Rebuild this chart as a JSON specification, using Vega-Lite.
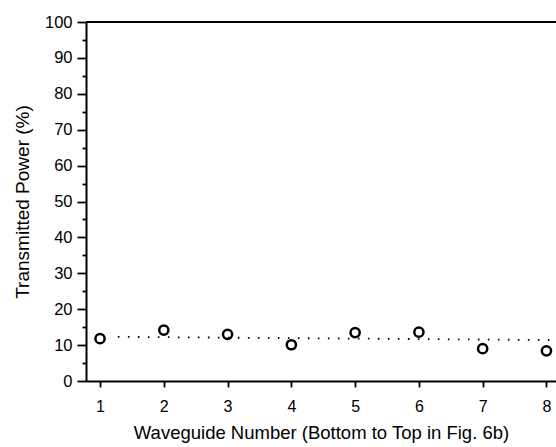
{
  "$schema": "https://vega.github.io/schema/vega-lite/v6.json",
  "autosize": {"type": "none"},
  "padding": {"left": 86, "top": 22, "right": 0, "bottom": 66},
  "width": 470,
  "height": 359,
  "background": "white",
  "config": {
    "view": {"stroke": null},
    "font": "Liberation Sans",
    "axis": {
      "domainColor": "black",
      "tickColor": "black",
      "labelColor": "black",
      "titleColor": "black",
      "grid": false,
      "labelOverlap": false,
      "labelFont": "Liberation Sans",
      "titleFont": "Liberation Sans",
      "titleFontWeight": "normal"
    }
  },
  "datasets": {
    "points": [
      {"waveguide": 1, "power": 11.8},
      {"waveguide": 2, "power": 14.2},
      {"waveguide": 3, "power": 13.0},
      {"waveguide": 4, "power": 10.1},
      {"waveguide": 5, "power": 13.5},
      {"waveguide": 6, "power": 13.6},
      {"waveguide": 7, "power": 9.0},
      {"waveguide": 8, "power": 8.4}
    ],
    "trend": [
      {"waveguide": 1.28, "power": 12.3},
      {"waveguide": 8.15, "power": 11.4}
    ],
    "frame": [
      {"power": 100}
    ]
  },
  "resolve": {"axis": {"y": "independent"}},
  "layer": [
    {
      "data": {"name": "points"},
      "mark": {"type": "point", "shape": "circle", "size": 85, "filled": false, "fill": "white", "fillOpacity": 1, "stroke": "black", "strokeWidth": 2.5, "opacity": 1},
      "encoding": {
        "x": {
          "field": "waveguide",
          "type": "quantitative",
          "scale": {"domain": [0.78, 8.15], "nice": false, "zero": false},
          "axis": {
            "values": [1, 2, 3, 4, 5, 6, 7, 8],
            "format": "d",
            "labelOverlap": false,
            "title": "Waveguide Number (Bottom to Top in Fig. 6b)",
            "domainWidth": 2,
            "tickWidth": 1.8,
            "tickSize": 6,
            "labelFontSize": 16,
            "labelPadding": 11,
            "titleFontSize": 18.5,
            "titlePadding": 9
          }
        },
        "y": {
          "field": "power",
          "type": "quantitative",
          "scale": {"domain": [0, 100], "nice": false},
          "axis": {
            "orient": "left",
            "values": [0, 10, 20, 30, 40, 50, 60, 70, 80, 90, 100],
            "labelOverlap": false,
            "tickSize": 9,
            "title": "Transmitted Power (%)",
            "domainWidth": 2,
            "tickWidth": 1.8,
            "labelFontSize": 16.5,
            "labelPadding": 5,
            "titleFontSize": 19,
            "titlePadding": 12
          }
        }
      }
    },
    {
      "data": {"name": "frame"},
      "mark": {"type": "rule", "color": "black", "strokeWidth": 2},
      "encoding": {"y": {"field": "power", "type": "quantitative", "axis": null}}
    },
    {
      "data": {"name": "trend"},
      "mark": {"type": "line", "color": "black", "strokeWidth": 1.8, "strokeDash": [1.6, 8.4], "strokeCap": "butt", "clip": true},
      "encoding": {
        "x": {"field": "waveguide", "type": "quantitative"},
        "y": {
          "field": "power",
          "type": "quantitative",
          "axis": {
            "orient": "left",
            "values": [5, 15, 25, 35, 45, 55, 65, 75, 85, 95],
            "labels": false,
            "domain": false,
            "title": null,
            "tickSize": 4,
            "tickWidth": 1.8
          }
        }
      }
    }
  ]
}
